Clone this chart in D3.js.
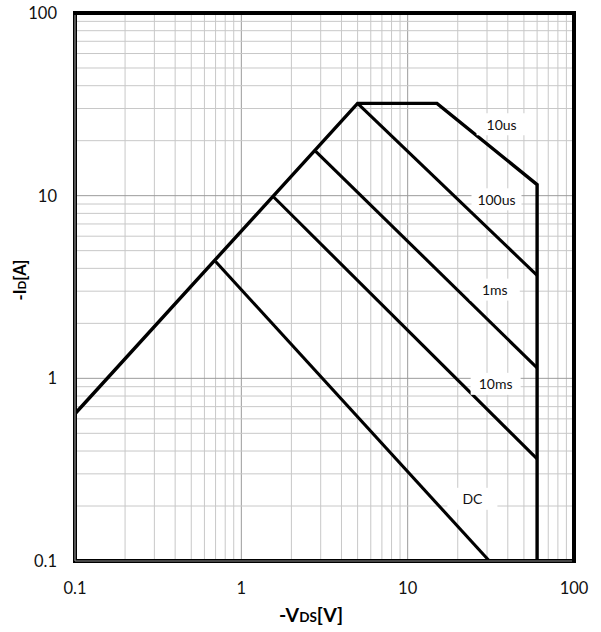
<!DOCTYPE html>
<html><head><meta charset="utf-8">
<script src="https://cdn.jsdelivr.net/npm/d3@7"></script>
<style>body{margin:0;background:#fff} svg{display:block}</style>
</head><body><svg id="c" width="601" height="632"></svg>
<script>
// ---- data ----
const xTickValues = [0.1, 1, 10, 100];
const xTickLabels = ["0.1", "1", "10", "100"];
const yTickValues = [0.1, 1, 10, 100];
const yTickLabels = ["0.1", "1", "10", "100"];

// outer SOA limit (RDS(on) line, 10us pulse, BVDSS)
const limitV = [0.1, 5, 15, 60, 60];
const limitI = [0.64, 32, 32, 11.5, 0.1];

// pulse-width limit lines
const pulseNames  = ["100us", "1ms", "10ms", "DC"];
const pulseStartV = [5, 2.8, 1.57, 0.70];
const pulseStartI = [32, 17.5, 9.8, 4.36];
const pulseEndV   = [60, 60, 60, 31];
const pulseEndI   = [3.66, 1.14, 0.362, 0.1];

// curve labels (anchor in data units)
const labelNames = ["10us", "100us", "1ms", "10ms", "DC"];
const labelV = [36.7, 34.2, 33.4, 33.8, 24.5];
const labelI = [24.6, 9.55, 3.06, 0.933, 0.219];

// ---- drawing ----
const svg = d3.select("#c");
const L = 75, R = 574, T = 13, B = 561;
const x = d3.scaleLog().domain([0.1, 100]).range([L, R]);
const y = d3.scaleLog().domain([0.1, 100]).range([B, T]);
const FONT = "Lato, 'Open Sans', 'DejaVu Sans', sans-serif";

const g = svg.append("g");
// gridlines
const xMinor = x.ticks();
const yMinor = y.ticks();
const isDecade = v => Math.abs(Math.log10(v) - Math.round(Math.log10(v))) < 1e-9;
g.selectAll("line.gx").data(xMinor).join("line")
  .attr("x1", d => x(d)).attr("x2", d => x(d)).attr("y1", T).attr("y2", B)
  .attr("stroke", d => isDecade(d) ? "#9c9c9c" : "#c8c8c8").attr("stroke-width", 1);
g.selectAll("line.gy").data(yMinor).join("line")
  .attr("y1", d => y(d)).attr("y2", d => y(d)).attr("x1", L).attr("x2", R)
  .attr("stroke", d => isDecade(d) ? "#9c9c9c" : "#c8c8c8").attr("stroke-width", 1);

const line = d3.line().x(d => x(d[0])).y(d => y(d[1]));
// limit curve
g.append("path").datum(limitV.map((v, i) => [v, limitI[i]]))
  .attr("d", line).attr("fill", "none").attr("stroke", "#000")
  .attr("stroke-width", 3.4).attr("stroke-linejoin", "miter");
// pulse lines
g.selectAll("path.p").data(pulseNames).join("path")
  .attr("d", (n, i) => line([[pulseStartV[i], pulseStartI[i]], [pulseEndV[i], pulseEndI[i]]]))
  .attr("fill", "none").attr("stroke", "#000").attr("stroke-width", 3.1);

// frame
g.append("rect").attr("x", L).attr("y", T).attr("width", R - L).attr("height", B - T)
  .attr("fill", "none").attr("stroke", "#000").attr("stroke-width", 4);
g.append("line").attr("x1", L).attr("x2", L).attr("y1", T + 2).attr("y2", B)
  .attr("stroke", "#8c8c8c").attr("stroke-width", 1.2);
g.append("line").attr("x1", L).attr("x2", R - 2).attr("y1", B).attr("y2", B)
  .attr("stroke", "#8c8c8c").attr("stroke-width", 1.2);

// curve labels with white boxes
const lab = g.selectAll("g.lab").data(labelNames).join("g")
  .attr("transform", (n, i) => `translate(${x(labelV[i])},${y(labelI[i])})`);
lab.append("rect").attr("x", -25).attr("y", -11).attr("width", 50).attr("height", 22).attr("fill", "#fff");
lab.append("text").text(d => d).attr("text-anchor", "middle").attr("dominant-baseline", "central")
  .attr("font-family", FONT).attr("font-size", 14).attr("fill", "#111");

// tick labels
g.selectAll("text.xt").data(xTickValues).join("text")
  .attr("x", d => x(d)).attr("y", 594).attr("text-anchor", "middle")
  .attr("font-family", FONT).attr("font-size", 16.5).attr("fill", "#111")
  .text((d, i) => xTickLabels[i]);
g.selectAll("text.yt").data(yTickValues).join("text")
  .attr("x", 57).attr("y", d => y(d)).attr("text-anchor", "end").attr("dominant-baseline", "central")
  .attr("font-family", FONT).attr("font-size", 16.5).attr("fill", "#111")
  .text((d, i) => yTickLabels[i]);

// axis titles
const xt = g.append("text").attr("x", 311).attr("y", 622).attr("text-anchor", "middle")
  .attr("font-family", FONT).attr("font-weight", "bold").attr("font-size", 19.5).attr("fill", "#000");
xt.append("tspan").text("-V");
xt.append("tspan").attr("font-size", 13.5).text("DS");
xt.append("tspan").text("[V]");

const yt = g.append("text").attr("transform", "translate(26,280) rotate(-90)").attr("text-anchor", "middle")
  .attr("font-family", FONT).attr("font-weight", "bold").attr("font-size", 16.5).attr("fill", "#000");
yt.append("tspan").text("-I");
yt.append("tspan").attr("font-size", 11.5).text("D");
yt.append("tspan").text("[A]");
</script></body></html>
